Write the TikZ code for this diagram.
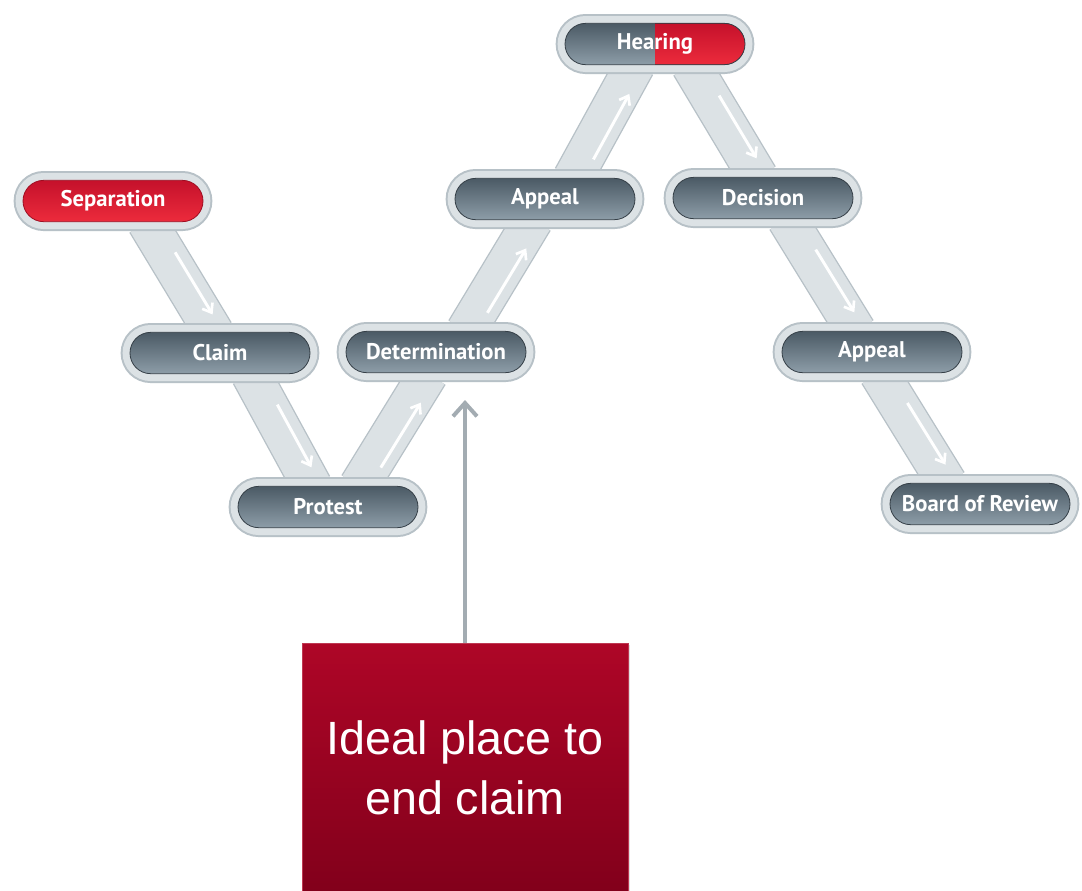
\documentclass[tikz,border=0pt]{standalone}
\usepackage{fontspec}
\setmainfont{Liberation Sans}
\newfontfamily\pillfont{PT Sans}
\usetikzlibrary{arrows.meta,shapes.misc,calc,shadows}
\definecolor{haloout}{HTML}{B7C1C7}
\definecolor{haloin}{HTML}{DCE2E5}
\definecolor{slatetop}{HTML}{4B5A65}
\definecolor{slatebot}{HTML}{8D9DA8}
\definecolor{redtop}{HTML}{C5112B}
\definecolor{redbot}{HTML}{EC2B3C}
\definecolor{boxtop}{HTML}{AE0627}
\definecolor{boxbot}{HTML}{82001B}
\definecolor{callgray}{HTML}{A3ACB2}
\tikzset{
  pill/.style={rounded rectangle, minimum width=135pt, minimum height=31pt,
    inner sep=0pt, text=white, font=\pillfont\bfseries\fontsize{17}{20}\selectfont,
    preaction={draw=haloout, line width=14pt},
    preaction={draw=haloin, line width=11pt},
    top color=slatetop, bottom color=slatebot, draw=slatetop!70!black, line width=0.6pt},
  redpill/.style={pill, top color=redtop, bottom color=redbot, draw=redtop!80!black},
  band/.style={draw=haloin, line width=29pt, line cap=butt},
  bandedge/.style={draw=haloout, line width=31pt, line cap=butt},
  flow/.style={draw=white, line width=2.2pt, -{Straight Barb[length=6pt,width=9pt,line width=2pt]}},
  callbox/.style={rectangle, minimum width=244.5pt, minimum height=186pt, inner sep=0pt,
    top color=boxtop, bottom color=boxbot, draw=boxtop!80!white, line width=0.5pt,
    drop shadow={shadow xshift=1.5pt, shadow yshift=-1.5pt, opacity=0.25},
    text=white, align=center, font=\fontsize{35}{45}\selectfont},
  callarrow/.style={draw=callgray, line width=3pt, -{Straight Barb[length=10pt,width=18pt,line width=3pt]}}
}
\begin{document}
\begin{tikzpicture}[x=0.75pt,y=-0.75pt]
\useasboundingbox[fill=white] (0,0) rectangle (1082,890);
\begin{scope}
\clip (0,0) rectangle (1082,890);
% node positions (named coordinates for bands drawn first)
\coordinate (sepc) at (113,201);
\coordinate (hearc) at (655,44);
\coordinate (appac) at (545,199);
\coordinate (decc) at (763,198);
\coordinate (claimc) at (220,353);
\coordinate (detc) at (436,352);
\coordinate (appbc) at (872,352);
\coordinate (protc) at (328,507);
\coordinate (boardc) at (980,504);
% band endpoints
\coordinate (b1s) at ($(sepc)+(34,21)$);   \coordinate (b1e) at ($(claimc)+(-6,-20)$);
\coordinate (b2s) at ($(claimc)+(31,21)$); \coordinate (b2e) at ($(protc)+(-16,-21)$);
\coordinate (b3s) at ($(protc)+(31,-21)$); \coordinate (b3e) at ($(detc)+(-8,22)$);
\coordinate (b4s) at ($(detc)+(30,-21)$);  \coordinate (b4e) at ($(appac)+(-12,21)$);
\coordinate (b5s) at ($(appac)+(28,-21)$); \coordinate (b5e) at ($(hearc)+(-20,21)$);
\coordinate (b6s) at ($(hearc)+(36,21)$);  \coordinate (b6e) at ($(decc)+(-5,-21)$);
\coordinate (b7s) at ($(decc)+(24,21)$);   \coordinate (b7e) at ($(appbc)+(-16,-21)$);
\coordinate (b8s) at ($(appbc)+(7,21)$);   \coordinate (b8e) at ($(boardc)+(-33,-21)$);
\foreach \i in {1,...,8}{
  \draw[bandedge] (b\i s) -- (b\i e);
}
\foreach \i in {1,...,8}{
  \draw[band] (b\i s) -- (b\i e);
}
% flow arrows (down for 1,2,6,7,8; up for 3,4,5)
\foreach \i in {1,2,6,7,8}{
  \draw[flow] ($(b\i s)!0.3!(b\i e)+(8,-3)$) -- ($(b\i s)!0.86!(b\i e)+(8,-3)$);
}
\foreach \i in {3,4,5}{
  \draw[flow] ($(b\i s)!0.2!(b\i e)+(8,4)$) -- ($(b\i s)!0.78!(b\i e)+(8,4)$);
}
% nodes
\node[redpill] (sep) at (sepc) {Separation};
\node[pill, path picture={\fill[top color=redtop, bottom color=redbot] (path picture bounding box.north) rectangle (path picture bounding box.south east);}] (hear) at (hearc) {Hearing};
\node[pill] (appa) at (appac) {Appeal};
\node[pill] (dec) at (decc) {Decision};
\node[pill] (claim) at (claimc) {Claim};
\node[pill] (det) at (detc) {Determination};
\node[pill] (appb) at (appbc) {Appeal};
\node[pill] (prot) at (protc) {Protest};
\node[pill] (board) at (boardc) {Board of Review};
% callout
\node[callbox, anchor=north] (call) at (465,643) {Ideal place to\\end claim};
\coordinate (tip) at (465,400);
\draw[callarrow] (call.north) -- (tip);
\end{scope}
\end{tikzpicture}
\end{document}
